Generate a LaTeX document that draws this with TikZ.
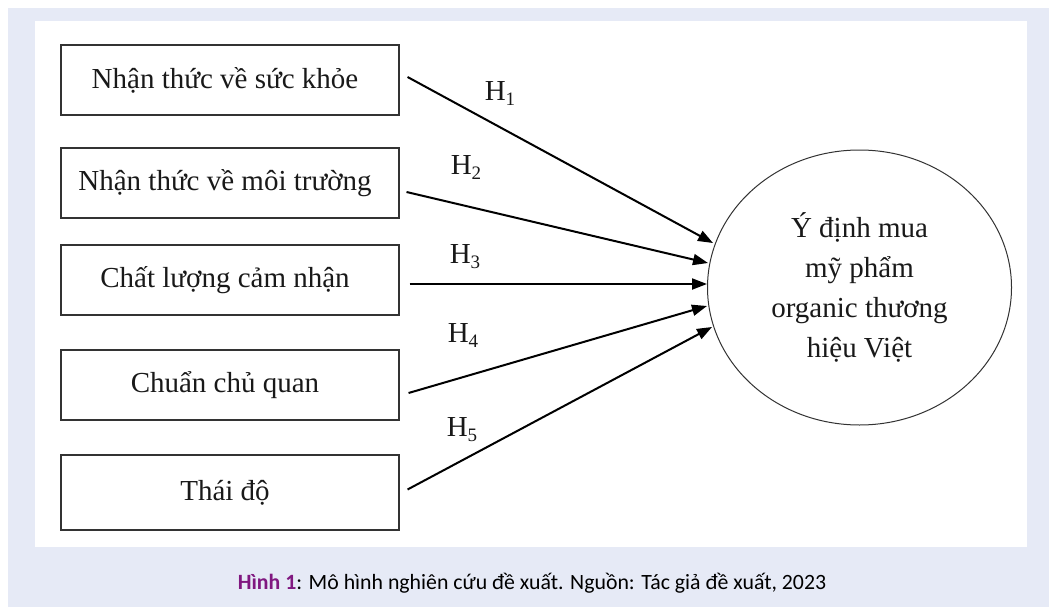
\documentclass[tikz,border=0pt]{standalone}
\usepackage{fontspec}
\setmainfont{Liberation Serif}
\newfontfamily\capfont{Carlito}
\usetikzlibrary{arrows.meta,shapes.geometric}
\definecolor{panelblue}{RGB}{230,234,246}
\definecolor{figpurple}{RGB}{128,24,128}
\newcommand{\hyp}[1]{H\raisebox{-5pt}{\fontsize{19}{19}\selectfont #1}}

\begin{document}
\begin{tikzpicture}[x=1pt,y=-1pt,
  factor/.style={draw=black!80,line width=1.1pt,minimum width=338pt,minimum height=70pt,inner sep=0pt,text=black!90,font=\fontsize{29}{34}\selectfont},
  effect/.style={draw,line width=2pt,-{Triangle[length=15pt,width=11pt]}},
  hlabel/.style={font=\fontsize{29}{34}\selectfont,inner sep=0pt,text=black!90}]
\useasboundingbox (0,0) rectangle (1049,607);
\fill[white] (0,0) rectangle (1049,607);
\fill[panelblue] (8,8) rectangle (1049,607);
\fill[white] (35,21) rectangle (1027,547);

\node[factor] (b1) at (230,80) {Nhận thức về sức khỏe\hspace*{10pt}};
\node[factor] (b2) at (230,183) {Nhận thức về môi trường\hspace*{10pt}};
\node[factor] (b3) at (230,280) {Chất lượng cảm nhận\hspace*{10pt}};
\node[factor] (b4) at (230,385) {Chuẩn chủ quan\hspace*{10pt}};
\node[factor,minimum height=75pt] (b5) at (230,492.5) {Thái độ\hspace*{10pt}};

\node[draw=black!80,line width=1pt,ellipse,minimum width=304pt,minimum height=275pt,inner sep=0pt,align=center,text=black!90,font=\fontsize{29}{40}\selectfont] (goal) at (859.5,287.5) {Ý định mua\\mỹ phẩm\\organic thương\\hiệu Việt};

\coordinate (t1) at (713,243);
\coordinate (t2) at (708,263);
\coordinate (t3) at (707,284);
\coordinate (t4) at (707,306);
\coordinate (t5) at (712,327);

\draw[effect] ([shift={(8,-3)}]b1.east) -- (t1);
\draw[effect] ([shift={(7,9)}]b2.east) -- (t2);
\draw[effect] ([shift={(10,4)}]b3.east) -- (t3);
\draw[effect] ([shift={(9,8)}]b4.east) -- (t4);
\draw[effect] ([shift={(8,-3)}]b5.east) -- (t5);

\node[hlabel] (h1) at (500,94) {\hyp{1}};
\node[hlabel] (h2) at (466,168) {\hyp{2}};
\node[hlabel] (h3) at (465,257) {\hyp{3}};
\node[hlabel] (h4) at (463,336) {\hyp{4}};
\node[hlabel] (h5) at (462,430) {\hyp{5}};

\node[font=\capfont\fontsize{21.8}{26}\selectfont,inner sep=0pt] (cap) at (532,583) {\textcolor{figpurple}{\textbf{Hình 1}}: Mô hình nghiên cứu đề xuất. Nguồn: Tác giả đề xuất, 2023};
\end{tikzpicture}
\end{document}
